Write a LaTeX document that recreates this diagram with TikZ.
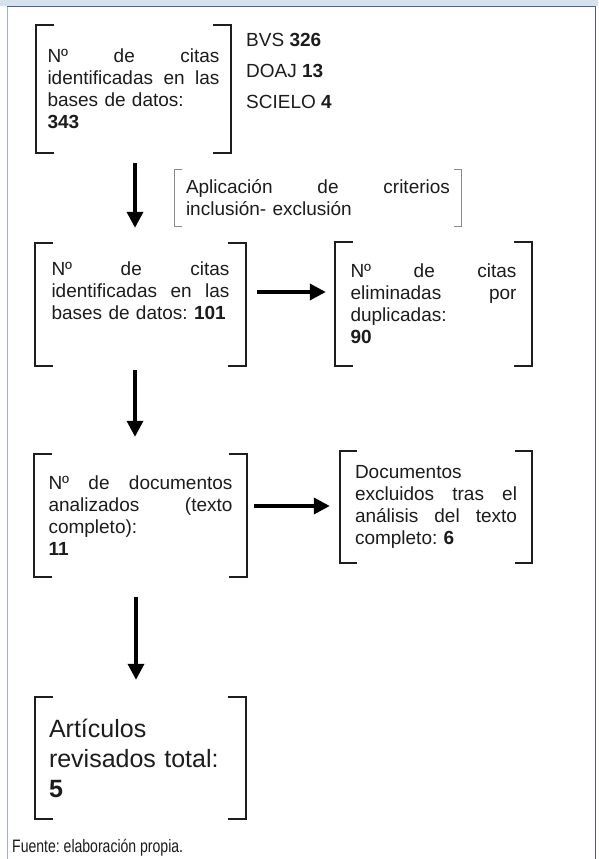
\documentclass[tikz,border=0pt]{standalone}
\usepackage{fontspec}
\setmainfont{Liberation Sans}
\newfontfamily\condfont[FakeStretch=0.78]{Liberation Sans}
\usetikzlibrary{arrows.meta}
\definecolor{txtgray}{HTML}{1C1C1C}
\definecolor{brkcol}{HTML}{1E1E1E}
\definecolor{critcol}{HTML}{8A8A8A}
\definecolor{bandcol}{HTML}{D6E2ED}
\definecolor{topline}{HTML}{4B5EA6}
\definecolor{leftline}{HTML}{9DB0DC}
\definecolor{rightline}{HTML}{4B5AA5}
\newcommand\mybrk[3]{%
  \draw[#3] ([xshift=#2]#1.north west) -- (#1.north west) -- (#1.south west) -- ([xshift=#2]#1.south west);
  \draw[#3] ([xshift=-#2]#1.north east) -- (#1.north east) -- (#1.south east) -- ([xshift=-#2]#1.south east);}
\frenchspacing
\begin{document}
\begin{tikzpicture}[x=1pt,y=-1pt,
  frame/.style={rectangle, inner sep=0pt, align=left, text=txtgray,
    font=\frenchspacing\fontsize{19}{22}\selectfont},
  brk/.style={line width=2pt, draw=brkcol, line join=miter},
  crit/.style={line width=1.1pt, draw=critcol, line join=miter},
  arr/.style={line width=3.6pt, draw=black, -{Triangle[width=16pt,length=16pt]}},
  lbl/.style={inner sep=0pt, align=left, text=txtgray, font=\fontsize{19}{31}\selectfont}]
\useasboundingbox (0,0) rectangle (598,859);
\fill[white] (0,0) rectangle (598,859);
\fill[bandcol] (0,0) rectangle (598,5.6);
\draw[leftline, line width=1.3pt] (7.6,6) -- (7.6,859);
\draw[rightline, line width=1.6pt] (595.6,6) -- (595.6,859);
\draw[topline, line width=1.4pt] (7,6.3) -- (596.4,6.3);

% boxes
\node[frame, minimum width=195, minimum height=128, text width=172] (f1) at (133.5,89)
  {N\textordmasculine\hfill de\hfill citas\\identificadas\hfill en\hfill las\\bases de datos:\\\textbf{343}};
\node[lbl, anchor=north west] (dbs) at (246,33)
  {BVS \textbf{326}\\DOAJ \textbf{13}\\SCIELO \textbf{4}};
\node[frame, minimum width=286, minimum height=56, text width=264] (crit) at (318,198)
  {Aplicación\hfill de\hfill criterios\\inclusión- exclusión};
\node[frame, minimum width=211, minimum height=123, text width=178] (f2) at (140.5,304.5)
  {N\textordmasculine\hfill de\hfill citas\\identificadas\hfill en\hfill las\\bases de datos: \textbf{101}\\\strut};
\node[frame, minimum width=197, minimum height=124, text width=166] (f3) at (433.5,304)
  {N\textordmasculine\hfill de\hfill citas\\eliminadas\hfill por\\duplicadas:\\\textbf{90}};
\node[frame, minimum width=213, minimum height=123, text width=184] (f4) at (140.5,515.5)
  {N\textordmasculine\hfill de\hfill documentos\\analizados\hfill (texto\\completo):\\\textbf{11}};
\node[frame, minimum width=192, minimum height=112, text width=162] (f5) at (436,507)
  {Documentos\\excluidos\hfill tras\hfill el\\análisis\hfill del\hfill texto\\completo: \textbf{6}};
\node[frame, minimum width=211, minimum height=122, text width=183,
  font=\fontsize{25}{30}\selectfont] (f6) at (140.5,758)
  {Artículos\\revisados total:\\\textbf{5}};

\mybrk{f1}{18pt}{brk}
\mybrk{f2}{18pt}{brk}
\mybrk{f3}{18pt}{brk}
\mybrk{f4}{18pt}{brk}
\mybrk{f5}{17pt}{brk}
\mybrk{f6}{18pt}{brk}
\mybrk{crit}{7pt}{crit}

% arrow guide coordinates
\coordinate (ax) at (135,0);
\coordinate (ax3) at (136,0);
\coordinate (ay1) at (0,292);
\coordinate (ay2) at (0,506);

\draw[arr, shorten <=10pt, shorten >=15pt] (f1.south -| ax) -- (f2.north -| ax);
\draw[arr, shorten <=4pt, shorten >=17pt] (f2.south -| ax) -- (f4.north -| ax);
\draw[arr, shorten <=20pt, shorten >=17pt] (f4.south -| ax3) -- (f6.north -| ax3);
\draw[arr, shorten <=11pt, shorten >=9pt] (f2.east |- ay1) -- (f3.west |- ay1);
\draw[arr, shorten <=7pt, shorten >=10pt] (f4.east |- ay2) -- (f5.west |- ay2);

\node[anchor=west, inner sep=0pt, text=txtgray, font=\condfont\fontsize{18}{20}\selectfont] (src) at (12,848)
  {Fuente: elaboración propia.};
\end{tikzpicture}
\end{document}
